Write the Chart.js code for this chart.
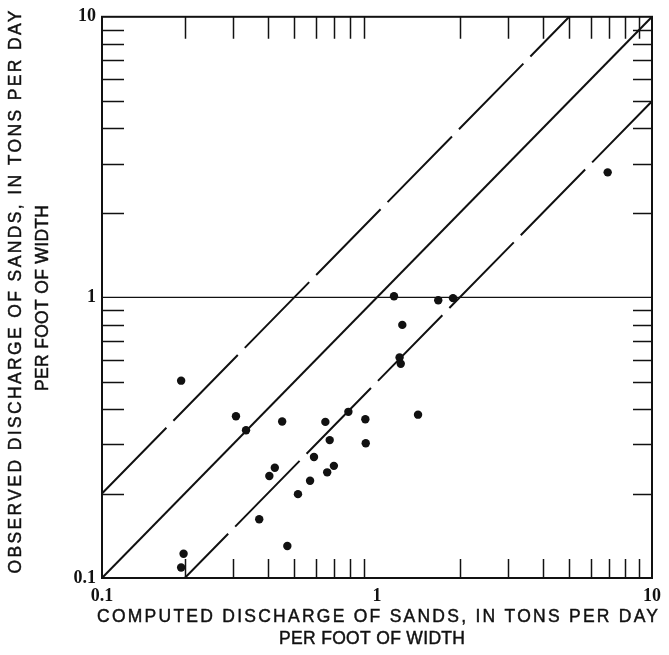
<!DOCTYPE html>
<html>
<head>
<meta charset="utf-8">
<script src="https://cdn.jsdelivr.net/npm/chart.js"></script>
<style>
  html, body { margin: 0; padding: 0; background: #fff; }
  #wrap { width: 669px; height: 655px; }
</style>
</head>
<body>
<div id="wrap"><canvas id="sands" width="669" height="655"></canvas></div>
<script>
/* ── data ─────────────────────────────────────────────────── */
const computedX = [0.194, 0.307, 0.334, 0.452, 0.649, 0.787, 0.907, 0.673, 0.91, 0.59,
                   0.425, 0.406, 0.697, 0.659, 0.571, 0.516, 0.373, 0.472, 0.198, 0.194,
                   1.153, 1.67, 1.89, 1.236, 1.208, 1.22, 1.41, 6.9];
const observedY = [0.505, 0.377, 0.336, 0.361, 0.36, 0.391, 0.368, 0.31, 0.302, 0.27,
                   0.247, 0.231, 0.251, 0.238, 0.222, 0.199, 0.162, 0.130, 0.122, 0.109,
                   1.01, 0.977, 0.994, 0.798, 0.611, 0.58, 0.382, 2.79];

/* reference lines: equality, twice and half */
const equalX = [0.1, 10],  equalY = [0.1, 10];
const upperX = [0.1, 5],   upperY = [0.2, 10];
const lowerX = [0.2, 10],  lowerY = [0.1, 5];
const unitX  = [0.1, 10],  unitY  = [1, 1];

const labelTicks = [0.1, 1, 10];
const minorTicks = [0.2, 0.3, 0.4, 0.5, 0.6, 0.7, 0.8, 0.9, 2, 3, 4, 5, 6, 7, 8, 9];

const xTitle = ['COMPUTED DISCHARGE OF SANDS, IN TONS PER DAY', 'PER FOOT OF WIDTH'];
const yTitle = ['OBSERVED DISCHARGE OF SANDS, IN TONS PER DAY', 'PER FOOT OF WIDTH'];

/* ── helpers ──────────────────────────────────────────────── */
const INK = '#111';
const pairs = (xs, ys) => xs.map((x, i) => ({ x, y: ys[i] }));

/* text stretched to a given width, slightly emboldened like the print */
function spacedText(ctx, text, cx, cy, width) {
    ctx.letterSpacing = '0px';
    const w0 = ctx.measureText(text).width;
    const ls = (width - w0) / (text.length - 1);
    ctx.letterSpacing = ls + 'px';
    ctx.textAlign = 'left';
    ctx.fillText(text, cx - width / 2, cy);
    ctx.strokeText(text, cx - width / 2, cy);
    ctx.letterSpacing = '0px';
}

/* frame + inward ticks on all four sides */
const framePlugin = {
    id: 'frame',
    afterDatasetsDraw(ch) {
        const { ctx, chartArea: a, scales: { x, y } } = ch;
        ctx.save();
        ctx.strokeStyle = INK;
        ctx.lineWidth = 1.5;
        ctx.beginPath();
        minorTicks.forEach(v => {
            const px = Math.round(x.getPixelForValue(v)) + 0.5;
            const py = Math.round(y.getPixelForValue(v)) + 0.5;
            ctx.moveTo(px, a.top);    ctx.lineTo(px, a.top + 22);
            ctx.moveTo(px, a.bottom); ctx.lineTo(px, a.bottom - 19);
            ctx.moveTo(a.left, py);   ctx.lineTo(a.left + 22, py);
            ctx.moveTo(a.right, py);  ctx.lineTo(a.right - 19, py);
        });
        ctx.stroke();
        ctx.lineWidth = 2;
        ctx.strokeRect(a.left, a.top, a.right - a.left, a.bottom - a.top);
        ctx.restore();
    }
};

/* two-line axis titles */
const titlePlugin = {
    id: 'titles',
    afterDraw(ch) {
        const { ctx } = ch;
        ctx.save();
        ctx.fillStyle = INK;
        ctx.strokeStyle = INK;
        ctx.lineWidth = 0.45;
        ctx.font = '17.5px "Liberation Sans", Arial, sans-serif';
        ctx.textBaseline = 'middle';
        spacedText(ctx, xTitle[0], 377.5, 617, 561);
        spacedText(ctx, xTitle[1], 372, 639, 186);
        ctx.rotate(-Math.PI / 2);
        spacedText(ctx, yTitle[0], -292, 16, 563);
        spacedText(ctx, yTitle[1], -298, 43, 186);
        ctx.restore();
    }
};

const tickFont = { family: '"Liberation Serif", "Times New Roman", serif', size: 18, weight: 'bold' };

new Chart(document.getElementById('sands'), {
    type: 'scatter',
    data: {
        datasets: [
            { data: pairs(computedX, observedY), pointRadius: 4.2, pointHoverRadius: 4.2,
              backgroundColor: INK, borderWidth: 0 },
            { data: pairs(equalX, equalY), showLine: true, pointRadius: 0, borderColor: INK, borderWidth: 2 },
            { data: pairs(upperX, upperY), showLine: true, pointRadius: 0, borderColor: INK, borderWidth: 2,
              borderDash: [92, 10] },
            { data: pairs(lowerX, lowerY), showLine: true, pointRadius: 0, borderColor: INK, borderWidth: 2,
              borderDash: [92, 10], borderDashOffset: 30 },
            { data: pairs(unitX, unitY), showLine: true, pointRadius: 0, borderColor: INK, borderWidth: 1.4 }
        ]
    },
    options: {
        responsive: false,
        animation: false,
        events: [],
        layout: { padding: { top: 15, right: 12, left: 0, bottom: 0 } },
        plugins: { legend: { display: false }, tooltip: { enabled: false } },
        scales: {
            x: {
                type: 'logarithmic', min: 0.1, max: 10,
                afterFit(s) { s.height = 77; },
                afterBuildTicks(s) { s.ticks = labelTicks.map(v => ({ value: v })); },
                grid: { display: false, drawTicks: false },
                border: { display: false },
                ticks: { color: INK, font: tickFont, padding: 8, maxRotation: 0, autoSkip: false,
                         callback: v => String(v) }
            },
            y: {
                type: 'logarithmic', min: 0.1, max: 10,
                afterFit(s) { s.width = 102; },
                afterBuildTicks(s) { s.ticks = labelTicks.map(v => ({ value: v })); },
                grid: { display: false, drawTicks: false },
                border: { display: false },
                ticks: { color: INK, font: tickFont, padding: 6, autoSkip: false,
                         callback: v => String(v) }
            }
        }
    },
    plugins: [framePlugin, titlePlugin]
});
</script>
</body>
</html>
